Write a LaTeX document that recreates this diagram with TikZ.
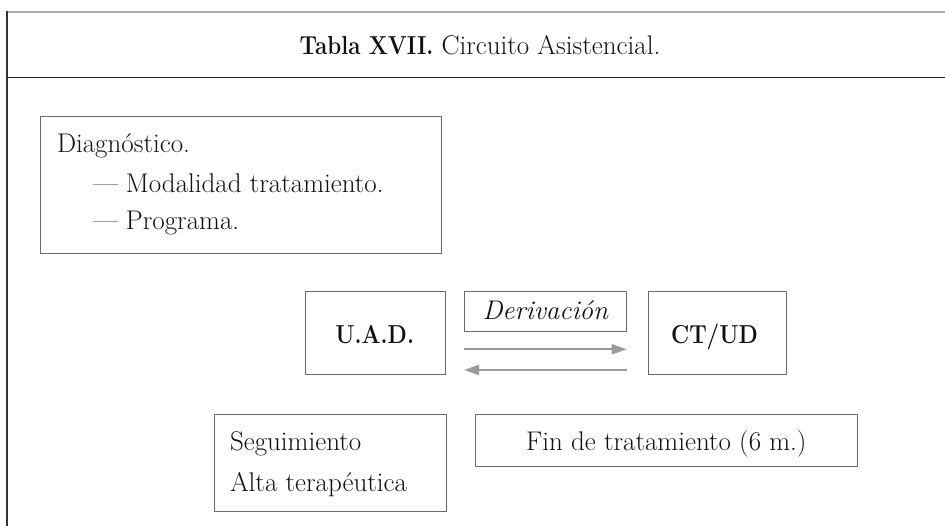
\documentclass[tikz,border=0pt]{standalone}
\usepackage{fontspec}
\usetikzlibrary{arrows.meta}
\definecolor{boxc}{HTML}{6A6A6A}
\definecolor{arrc}{HTML}{9A9A9A}
\definecolor{txtc}{HTML}{111111}
\definecolor{topc}{HTML}{AAAAAA}
\definecolor{borderc}{HTML}{333333}
\newcommand\bodyf{\fontsize{27}{32}\selectfont}
\newcommand\boldtxt[1]{\scalebox{0.86}[1]{\fontsize{26}{30}\selectfont\bfseries #1}}
\tikzset{
  box/.style={draw=boxc, line width=0.9pt, inner sep=0pt, outer sep=0pt, anchor=north west},
  txtn/.style={inner sep=0pt, outer sep=0pt, text=txtc, font=\bodyf},
  boldn/.style={inner sep=0pt, outer sep=0pt, text=txtc, anchor=base},
  arr/.style={draw=arrc, line width=2pt, -{Triangle[length=15pt,width=10pt]}},
}
\begin{document}
\begin{tikzpicture}[x=1pt,y=-1pt]
\useasboundingbox (0,0) rectangle (945,526);
% frame
\draw[topc, line width=2pt] (7,12) -- (945,12);
\draw[borderc, line width=1.2pt] (7,11) -- (7,526);
\draw[black!90, line width=1.3pt] (7,77.3) -- (945,77.3);
% title
\node[txtn, anchor=base] (title) at (480,55)
  {\boldtxt{Tabla XVII.} Circuito Asistencial.};
% boxes
\node[box, minimum width=401pt, minimum height=137pt] (diag) at (40.7,116) {};
\node[box, minimum width=139.3pt, minimum height=82.6pt] (uad) at (305.7,291.7) {};
\node[box, minimum width=162.7pt, minimum height=39.3pt] (deriv) at (464,291.7) {};
\node[box, minimum width=138.7pt, minimum height=82.3pt] (ctud) at (648,291.7) {};
\node[box, minimum width=231.7pt, minimum height=96.7pt] (seg) at (214.3,414.3) {};
\node[box, minimum width=382pt, minimum height=52.4pt] (fin) at (475.3,414.3) {};
% texts
\node[txtn, anchor=base west] (d1) at (57,153) {Diagnóstico.};
\node[txtn, anchor=base west] (d2) at (93,192.5) {— Modalidad tratamiento.};
\node[txtn, anchor=base west] (d3) at (93,230) {— Programa.};
\node[boldn] (uadt) at (374.7,343.3) {\boldtxt{U.A.D.}};
\node[boldn] (ctudt) at (714.5,343.3) {\boldtxt{CT/UD}};
\node[txtn, anchor=base] (dervt) at (545.3,320) {\itshape Derivación};
\node[txtn, anchor=base west] (s1) at (230,450) {Seguimiento};
\node[txtn, anchor=base west] (s2) at (230,491.7) {Alta terapéutica};
\node[txtn, anchor=base] (fint) at (666.3,450) {Fin de tratamiento (6 m.)};
% arrows
\coordinate (a1) at (0,349.3);
\coordinate (a2) at (0,370);
\draw[arr] (deriv.south west |- a1) -- (deriv.south east |- a1);
\draw[arr] (deriv.south east |- a2) -- (deriv.south west |- a2);
\end{tikzpicture}
\end{document}
